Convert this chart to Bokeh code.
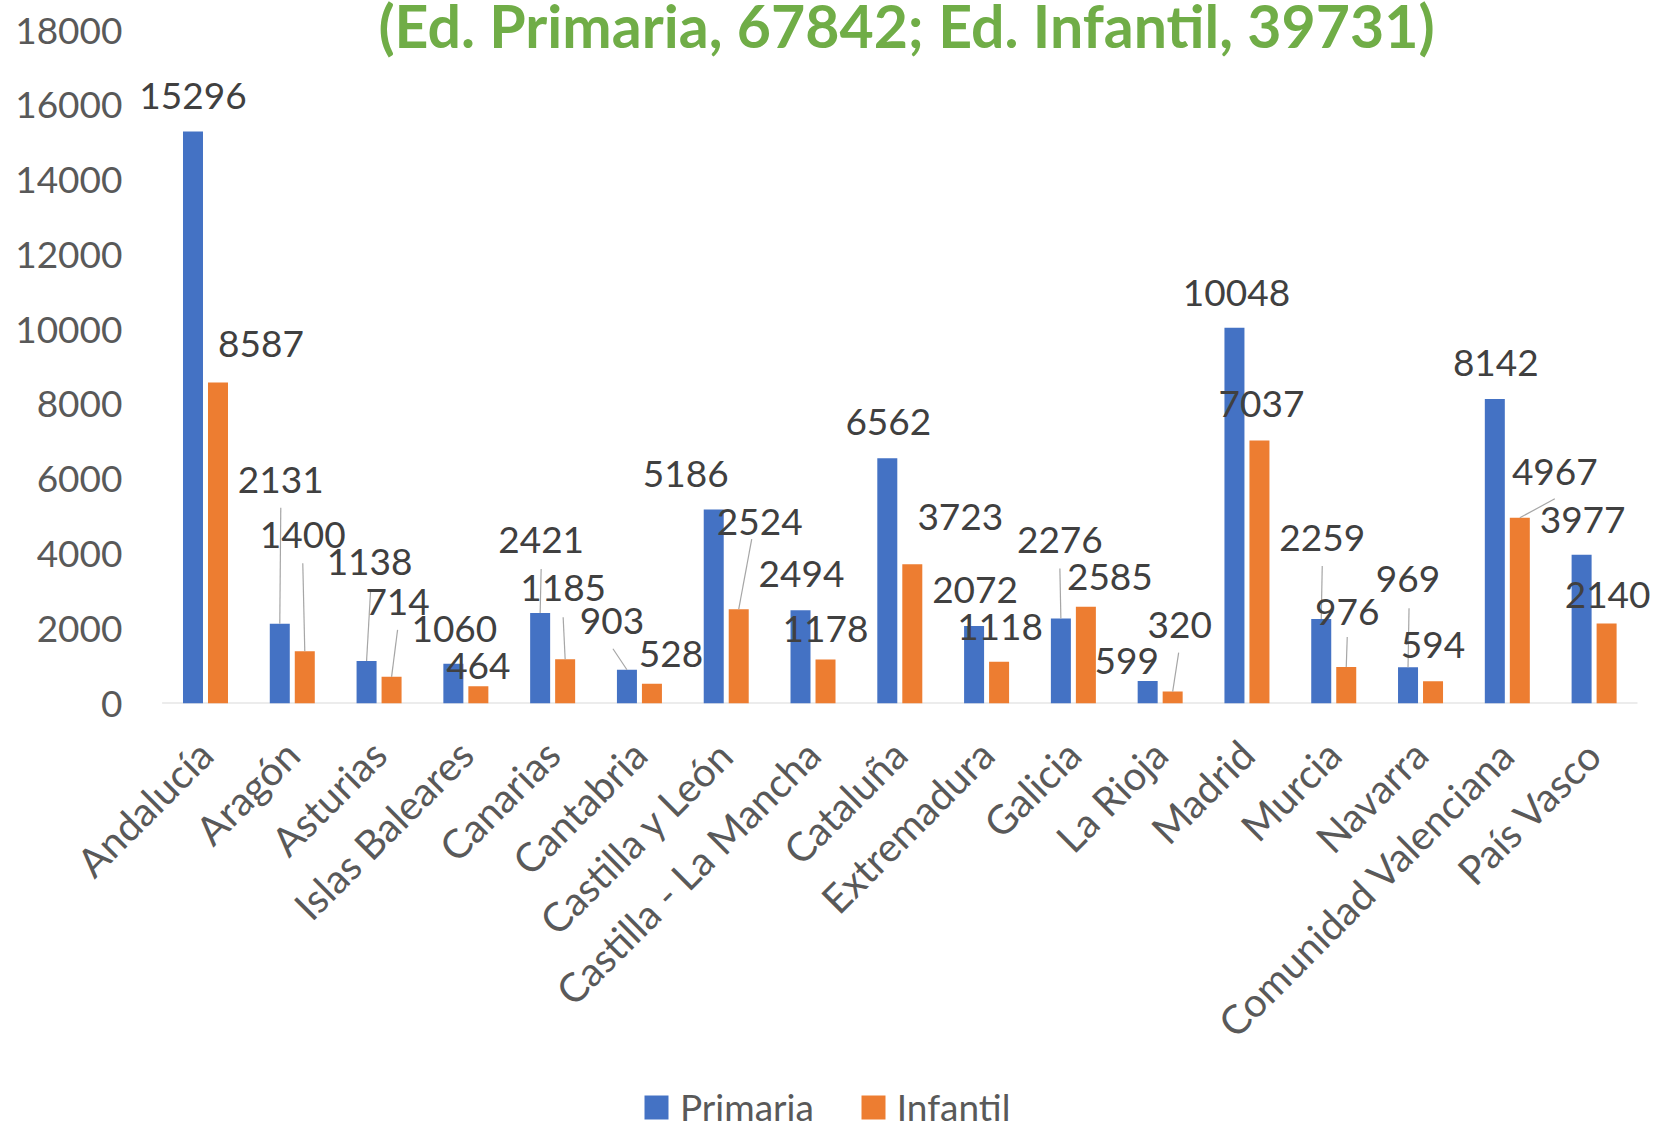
import math
from bokeh.plotting import figure
from bokeh.layouts import column
from bokeh.models import (ColumnDataSource, Range1d, FixedTicker, LabelSet, Label,
                          Legend, LegendItem, BasicTickFormatter)
from bokeh.core.properties import value
from bokeh.embed import file_html
from bokeh.resources import INLINE

# ---------------- data ----------------
regions = ["Andalucía", "Aragón", "Asturias", "Islas Baleares", "Canarias", "Cantabria",
           "Castilla y León", "Castilla - La Mancha", "Cataluña", "Extremadura", "Galicia",
           "La Rioja", "Madrid", "Murcia", "Navarra", "Comunidad Valenciana", "País Vasco"]
primaria = [15296, 2131, 1138, 1060, 2421, 903, 5186, 2494, 6562, 2072, 2276, 599, 10048,
            2259, 969, 8142, 3977]
infantil = [8587, 1400, 714, 464, 1185, 528, 2524, 1178, 3723, 1118, 2585, 320, 7037,
            976, 594, 4967, 2140]
series_names = ["Primaria", "Infantil"]
y_ticks = [0, 2000, 4000, 6000, 8000, 10000, 12000, 14000, 16000, 18000]
title_text = "(Ed. Primaria, 67842; Ed. Infantil, 39731)"

# ---------------- layout / style ----------------
# moved data labels: centre offsets from bar top (px; +dx right, +dy down)
lab_dx_p = [0, 1, 3, 1, 1, -15, -28, 1, 1, 1, -1, -21, 2, 1, 0, 1, 1]
lab_dy_p = [-36, -144, -99, -35, -73, -49, -36, -36, -36, -36, -78, -20, -35, -81, -88, -36, -35]
lab_dx_i = [43, -2, 6, 0, -2, 19, 21, 0, 48, 1, 24, 7, 2, 1, 0, 35, 1]
lab_dy_i = [-38, -116, -75, -20, -71, -30, -87, -30, -47, -35, -30, -67, -36, -55, -36, -46, -28]
# leader-line start offsets from bar top (px); nan = no leader line
NA = float("nan")
ld_dx_p = [NA, 1, 4, NA, 1, -14, NA, NA, NA, NA, -1, NA, NA, 1, 1, NA, NA]
ld_dy_p = [NA, -116, -70, NA, -44, -21, NA, NA, NA, NA, -50, NA, NA, -53, -59, NA, NA]
ld_dx_i = [NA, -2, 6, NA, -2, NA, 13, NA, NA, NA, NA, 6, NA, 1, NA, 35, NA]
ld_dy_i = [NA, -88, -47, NA, -42, NA, -70, NA, NA, NA, NA, -39, NA, -30, NA, -19, NA]

W = 1655
H_MAIN, H_LEG = 1083, 46
AX0, AX1 = 161.6, 1637.0      # start / end of category axis (px)
FL, FR = 132, 1655            # frame left / right (px)
Y0_PX, YTOP_PX = 703, 30      # pixel rows of value 0 and 18000
YMAX = 18000
n = len(regions)
px_cat = (AX1 - AX0) / n
px_unit = (Y0_PX - YTOP_PX) / YMAX
x_start = -0.5 - (AX0 - FL) / px_cat
x_end = n - 0.5 + (FR - AX1) / px_cat
y_end = Y0_PX / px_unit
BAR_W = 20 / px_cat
OFF = 12.5 / px_cat

BLUE, ORANGE = "#4472C4", "#ED7D31"
FONT = "Lato"
GRAY_TXT = "#595959"
LAB_TXT = "#404040"

p = figure(width=W, height=H_MAIN, x_range=Range1d(x_start, x_end), y_range=Range1d(0, y_end),
           output_backend="svg", toolbar_location=None, title=None,
           min_border_left=FL, min_border_right=W - FR, min_border_top=0,
           min_border_bottom=H_MAIN - Y0_PX)
p.outline_line_color = None
p.xgrid.visible = False
p.ygrid.visible = False
p.background_fill_color = "white"
p.border_fill_color = "white"

idx = list(range(n))
xp = [i - OFF for i in idx]
xi = [i + OFF for i in idx]

# category axis line
p.segment(x0=[-0.5], y0=[0], x1=[n - 0.5], y1=[0], line_color="#D9D9D9", line_width=2)

src_p = ColumnDataSource(dict(x=xp, top=primaria, region=regions))
src_i = ColumnDataSource(dict(x=xi, top=infantil, region=regions))
r_p = p.vbar(x="x", top="top", width=BAR_W, source=src_p, fill_color=BLUE, line_color=None)
r_i = p.vbar(x="x", top="top", width=BAR_W, source=src_i, fill_color=ORANGE, line_color=None)


def leaders(xs, vals, dxs, dys):
    x0, y0, x1, y1 = [], [], [], []
    for x, v, dx, dy in zip(xs, vals, dxs, dys):
        if math.isnan(dx):
            continue
        x0.append(x + dx / px_cat)
        y0.append(v - dy / px_unit)
        x1.append(x)
        y1.append(v)
    return dict(x0=x0, y0=y0, x1=x1, y1=y1)


for xs, vals, dxs, dys in [(xp, primaria, ld_dx_p, ld_dy_p), (xi, infantil, ld_dx_i, ld_dy_i)]:
    p.segment(x0="x0", y0="y0", x1="x1", y1="y1",
              source=ColumnDataSource(leaders(xs, vals, dxs, dys)),
              line_color="#A6A6A6", line_width=1.2)

for xs, vals, dxs, dys in [(xp, primaria, lab_dx_p, lab_dy_p), (xi, infantil, lab_dx_i, lab_dy_i)]:
    s = ColumnDataSource(dict(x=xs, y=vals, text=[str(v) for v in vals],
                              xo=dxs, yo=[-d for d in dys]))
    p.add_layout(LabelSet(x="x", y="y", text="text", x_offset="xo", y_offset="yo", source=s,
                          text_font=value(FONT), text_font_size=value("37px"),
                          text_color=value(LAB_TXT),
                          text_align="center", text_baseline="middle"))

xa = p.xaxis[0]
xa.ticker = FixedTicker(ticks=idx)
xa.major_label_overrides = {i: r for i, r in enumerate(regions)}
xa.major_label_orientation = math.pi / 4
xa.major_label_text_font = FONT
xa.major_label_text_font_size = "40px"
xa.major_label_text_color = GRAY_TXT
xa.major_tick_line_color = None
xa.minor_tick_line_color = None
xa.major_tick_out = 0
xa.major_tick_in = 0
xa.axis_line_color = None
xa.major_label_standoff = 44

ya = p.yaxis[0]
ya.ticker = FixedTicker(ticks=y_ticks)
ya.formatter = BasicTickFormatter(use_scientific=False)
ya.major_label_text_font = FONT
ya.major_label_text_font_size = "37px"
ya.major_label_text_color = GRAY_TXT
ya.axis_line_color = None
ya.major_tick_line_color = None
ya.minor_tick_line_color = None
ya.major_tick_out = 0
ya.major_tick_in = 0
ya.major_label_standoff = 10

# chart title (only its second line is visible)
p.add_layout(Label(x=906 - FL, y=Y0_PX - 25, x_units="screen", y_units="screen",
                   text=title_text, text_font=FONT, text_font_style="bold",
                   text_font_size="59px", text_color="#70AD47",
                   text_align="center", text_baseline="middle"))

# legend strip (its frame lines up with the chart frame in the column)
q = figure(width=W, height=H_LEG, x_range=Range1d(0, 1), y_range=Range1d(0, 1),
           output_backend="svg", toolbar_location=None, title=None,
           x_axis_location=None, y_axis_location=None, min_border=0)
q.outline_line_color = None
q.grid.visible = False
q.background_fill_color = "white"
q.border_fill_color = "white"
# zero-height swatch renderers (only their legend glyphs show)
lp = q.vbar(x=[0.5], top=[0], width=0.01, fill_color=BLUE, line_color=None)
li = q.vbar(x=[0.5], top=[0], width=0.01, fill_color=ORANGE, line_color=None)
LEG_FS = 37
legend = Legend(items=[LegendItem(label=series_names[0], renderers=[lp]),
                       LegendItem(label=series_names[1], renderers=[li])],
                location=(509, 22 - 0.6 * LEG_FS), orientation="horizontal",
                glyph_width=30, glyph_height=30, label_standoff=9, spacing=44,
                label_text_font=FONT, label_text_font_size=f"{LEG_FS}px",
                label_text_color=GRAY_TXT,
                padding=0, margin=0, border_line_color=None, background_fill_alpha=0)
q.add_layout(legend, "center")

layout = column(p, q, spacing=0)
open("out.html", "w").write(file_html(layout, INLINE))
